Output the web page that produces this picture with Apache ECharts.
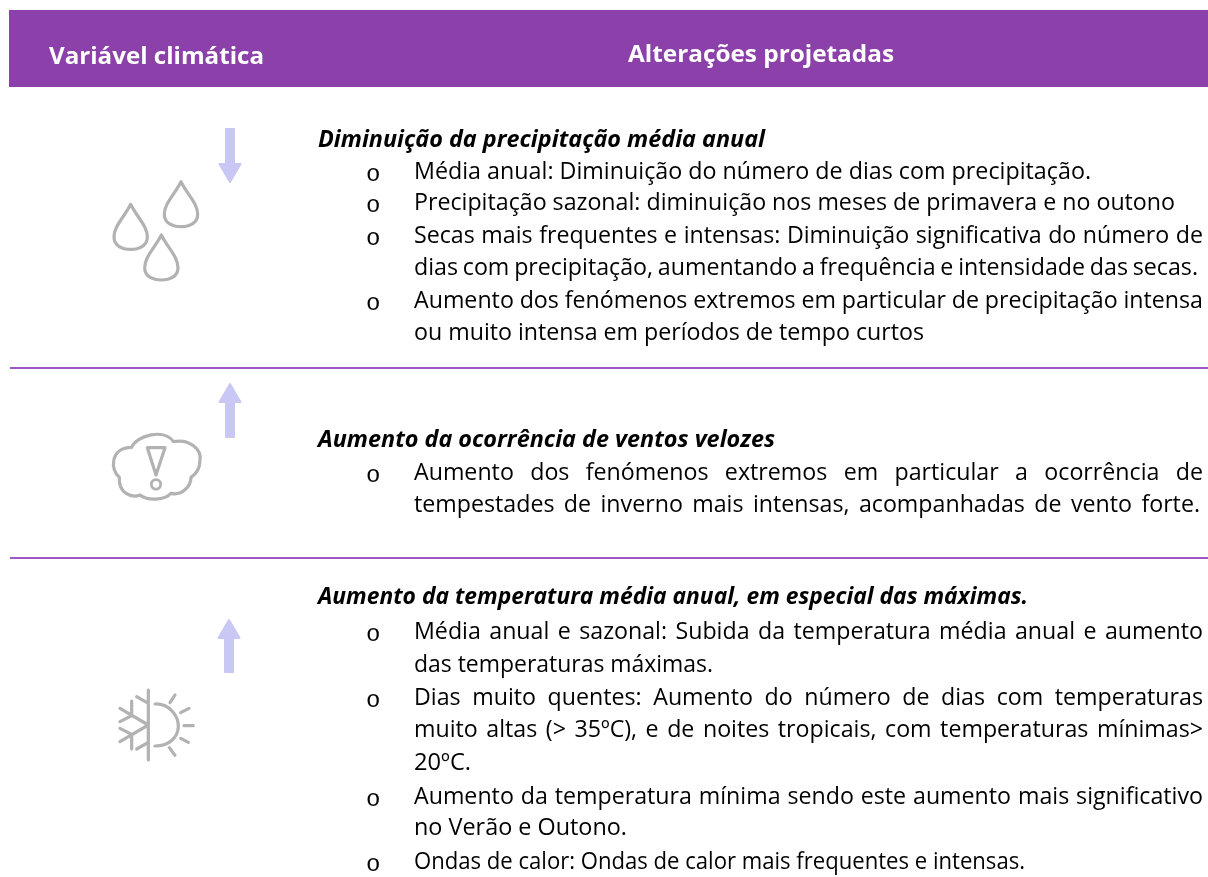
<!DOCTYPE html>
<html><head><meta charset="utf-8">
<style>html,body{margin:0;padding:0;background:#fff}#c{width:1208px;height:877px}</style>
<script src="https://cdn.jsdelivr.net/npm/echarts@6/dist/echarts.min.js"></script></head>
<body><div id="c"></div>
<script>
const headers = ['Variável climática', 'Alterações projetadas'];
const sectionTitles = [
  'Diminuição da precipitação média anual',
  'Aumento da ocorrência de ventos velozes',
  'Aumento da temperatura média anual, em especial das máximas.'
];
const section1 = [
  ['Média anual: Diminuição do número de dias com precipitação.'],
  ['Precipitação sazonal: diminuição nos meses de primavera e no outono'],
  ['Secas mais frequentes e intensas: Diminuição significativa do número de', 'dias com precipitação, aumentando a frequência e intensidade das secas.'],
  ['Aumento dos fenómenos extremos em particular de precipitação intensa', 'ou muito intensa em períodos de tempo curtos']
];
const section2 = [
  ['Aumento dos fenómenos extremos em particular a ocorrência de', 'tempestades de inverno mais intensas, acompanhadas de vento forte.']
];
const section3 = [
  ['Média anual e sazonal: Subida da temperatura média anual e aumento', 'das temperaturas máximas.'],
  ['Dias muito quentes: Aumento do número de dias com temperaturas', 'muito altas (> 35ºC), e de noites tropicais, com temperaturas mínimas>', '20ºC.'],
  ['Aumento da temperatura mínima sendo este aumento mais significativo', 'no Verão e Outono.'],
  ['Ondas de calor: Ondas de calor mais frequentes e intensas.']
];
// layout of text: vertical centres and right edges of each line
const layout1 = {y:[140,172,203,236,268,301,333], end:[765,1091,1175,1203,1198,1203,924], just:[0,0,0,1,1,1,0]};
const layout2 = {y:[440,473,505], end:[775,1203,1200], just:[0,1,1]};
const layout3 = {y:[597,632,665,698,730,763,797,828,862], end:[1028,1203,713,1203,1203,471,1203,627,1025], just:[0,1,0,1,1,0,1,0,0]};

const FONT = 'Open Sans';
const SIZE = 23.5;
const ctx = document.createElement('canvas').getContext('2d');
const els = [];
const fontStr = (size, o) => `${o&&o.italic?'italic ':''}${o&&o.bold?'bold ':''}${size}px "${FONT}"`;
const measure = (t, f) => { ctx.font = f; return ctx.measureText(t).width; };
function text(t, x, y, size, o) {
  o = o || {};
  const f = o.font || fontStr(size, o);
  els.push({type:'text', x, y, scaleX:o.scaleX||1, originX:0, style:{text:t, fill:o.fill||'#000', font:f, textVerticalAlign:'middle', textAlign:'left'}});
}
function fitted(t, x0, x1, y, size, o) {
  const f = fontStr(size, o);
  text(t, x0, y, size, Object.assign({}, o, {scaleX:(x1-x0)/measure(t, f)}));
}
const baseScale = 761 / measure(section1[1][0], fontStr(SIZE));
function justified(t, x0, x1, y, size) {
  const f = fontStr(size);
  const words = t.split(' ');
  const ws = words.map(w => measure(w, f) * baseScale);
  const gap = (x1 - x0 - ws.reduce((a,b)=>a+b,0)) / (words.length - 1);
  let x = x0;
  words.forEach((w,i) => { text(w, x, y, size, {scaleX:baseScale}); x += ws[i] + gap; });
}
// header
els.push({type:'rect', shape:{x:9,y:10,width:1199,height:77}, style:{fill:'#8B41A9'}});
fitted(headers[0], 49, 264, 57, 24, {bold:true, fill:'#fff'});
fitted(headers[1], 628, 894, 55, 24, {bold:true, fill:'#fff'});
// separators
[367, 557].forEach(y => els.push({type:'rect', shape:{x:10,y,width:1198,height:2}, style:{fill:'#9C58C4'}}));
// body
function block(title, items, lay) {
  fitted(title, 318, lay.end[0], lay.y[0], SIZE, {bold:true, italic:true});
  let k = 1;
  items.forEach(lines => lines.forEach((l, i) => {
    const y = lay.y[k];
    if (i === 0) text('o', 366, y + 3, 24, {font:'24px "Liberation Mono"'});
    if (lay.just[k]) justified(l, 414, lay.end[k], y, SIZE);
    else fitted(l, 414, lay.end[k], y, SIZE);
    k++;
  }));
}
block(sectionTitles[0], section1, layout1);
block(sectionTitles[1], section2, layout2);
block(sectionTitles[2], section3, layout3);
// arrows
const arrow = (x, yTop, yBot, up) => {
  const hw = 10.5, sw = 4, hh = 19;
  const pts = up
    ? [[x,yTop+1],[x+hw,yTop+hh],[x+sw,yTop+hh],[x+sw,yBot-1],[x-sw,yBot-1],[x-sw,yTop+hh],[x-hw,yTop+hh]]
    : [[x,yBot-1],[x+hw,yBot-hh],[x+sw,yBot-hh],[x+sw,yTop+1],[x-sw,yTop+1],[x-sw,yBot-hh],[x-hw,yBot-hh]];
  els.push({type:'polygon', shape:{points:pts}, style:{fill:'#C9C8F4', stroke:'#C9C8F4', lineWidth:2, lineJoin:'round'}});
};
arrow(230, 128, 183, false);
arrow(230, 383, 438, true);
arrow(229, 619, 673, true);
// icons: outlines are written in the 3x crop coordinates, then mapped to the page
const G = '#B2B2B2';
let shapeId = 0;
function icon(ox, oy, d, lw) {
  const mapped = d.replace(/(-?[\d.]+) (-?[\d.]+)/g, (m,a,b) => `${(ox + a/3).toFixed(2)} ${(oy + b/3).toFixed(2)}`);
  const name = 'icon' + (shapeId++);
  echarts.graphic.registerShape(name, echarts.graphic.extendPath(mapped, {}));
  els.push({type:name, style:{stroke:G, fill:'none', lineWidth:lw||3.2, lineCap:'round', lineJoin:'round'}});
}
const dropPath = (cx, t) => `M${cx} ${t} C${cx+20} ${t+40} ${cx+50} ${t+65} ${cx+50} ${t+98} C${cx+50} ${t+125} ${cx+25} ${t+135} ${cx} ${t+135} C${cx-25} ${t+135} ${cx-50} ${t+125} ${cx-50} ${t+98} C${cx-50} ${t+65} ${cx-20} ${t+40} ${cx} ${t} Z`;
icon(90,110, dropPath(273,215));
icon(90,110, dropPath(122,283));
icon(90,110, dropPath(214,375));
icon(90,370, 'M125 232 C140 195 225 175 250 215 C300 205 335 240 330 270 C330 295 318 312 303 322 C303 350 275 378 243 370 C225 392 170 392 150 375 C125 385 85 370 88 322 C60 300 60 232 125 232 Z');
icon(90,370, 'M172 233 L225 233 L198 315 Z');
icon(90,370, 'M212 343 C212 362 184 362 184 343 C184 324 212 324 212 343 Z', 2.8);
icon(110,685, 'M115 15 L115 225 M80 35 L115 55 M80 192 L115 172 M115 120 L30 70 M115 120 L30 170 M65 92 L65 48 M65 92 L30 110 M65 148 L65 192 M65 148 L30 130');
icon(90,610, 'M195 282 C240 280 265 320 265 348 C265 380 240 408 195 408');
icon(90,610, 'M240 278 L255 255 M272 308 L297 295 M282 347 L310 347 M272 385 L295 397 M238 413 L255 436');

const chart = echarts.init(document.getElementById('c'));
chart.setOption({animation:false, graphic:{elements:els}});
</script></body></html>
